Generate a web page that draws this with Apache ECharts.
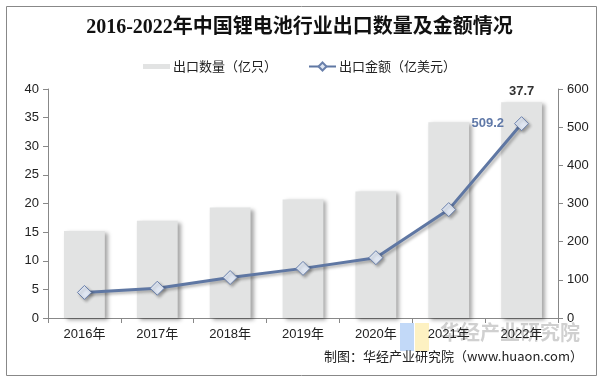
<!DOCTYPE html>
<html><head><meta charset="utf-8">
<script src="https://cdn.jsdelivr.net/npm/echarts@6/dist/echarts.min.js"></script>
<style>html,body{margin:0;padding:0;background:#fff}#c{width:599px;height:379px}</style>
</head><body><div id="c"></div>
<script>
const categories = ['2016年','2017年','2018年','2019年','2020年','2021年','2022年'];
const exportQty = [15.2, 17.0, 19.3, 20.7, 22.1, 34.2, 37.7];
const exportValue = [67, 78, 106, 130, 158, 284, 509.2];
const leftTicks = {min: 0, max: 40, interval: 5};
const rightTicks = {min: 0, max: 600, interval: 100};

const chart = echarts.init(document.getElementById('c'));
const axisFont = {fontFamily: 'Liberation Sans, Noto Sans CJK SC', fontSize: 13, color: '#222'};
chart.setOption({
  animation: false,
  backgroundColor: '#fff',
  title: {
    text: '2016-2022年中国锂电池行业出口数量及金额情况',
    left: 'center', top: 13,
    textStyle: {fontFamily: 'Liberation Serif, Noto Sans CJK SC', fontWeight: 'bold', fontSize: 20, color: '#111'}
  },
  legend: {
    top: 55, left: 'center', itemGap: 31, itemWidth: 27, itemHeight: 10,
    textStyle: {fontFamily: 'Noto Sans CJK SC', fontSize: 13, color: '#222', padding: [0, 0, 0, -2]},
    data: [
      {name: '出口数量（亿只）', icon: 'path://M0,0h27v5h-27z', itemStyle: {color: '#e2e3e3'}},
      {name: '出口金额（亿美元）'}
    ]
  },
  grid: {left: 48, right: 41, top: 89, bottom: 61},
  xAxis: {
    type: 'category', data: categories,
    axisLine: {lineStyle: {color: '#888'}},
    axisTick: {show: true, alignWithLabel: false, length: 5, lineStyle: {color: '#888'}},
    axisLabel: Object.assign({margin: 10}, axisFont)
  },
  yAxis: [
    Object.assign({type: 'value', position: 'left',
      axisLine: {show: true, lineStyle: {color: '#888'}},
      axisTick: {show: true, length: 5, lineStyle: {color: '#888'}},
      splitLine: {show: false},
      axisLabel: Object.assign({margin: 9}, axisFont)}, leftTicks),
    Object.assign({type: 'value', position: 'right',
      axisLine: {show: true, lineStyle: {color: '#888'}},
      axisTick: {show: true, length: 5, lineStyle: {color: '#888'}},
      splitLine: {show: false},
      axisLabel: Object.assign({margin: 9}, axisFont)}, rightTicks)
  ],
  series: [
    {
      name: '出口数量（亿只）', type: 'bar', yAxisIndex: 0, data: exportQty,
      barWidth: '56%',
      itemStyle: {color: '#e2e3e3', shadowColor: 'rgba(0,0,0,0.35)', shadowBlur: 4, shadowOffsetX: 3, shadowOffsetY: 2},
      label: {
        show: true, position: 'top', distance: 4,
        fontFamily: 'Liberation Sans', fontSize: 13, fontWeight: 'bold', color: '#333',
        formatter: p => p.dataIndex === exportQty.length - 1 ? p.value : ''
      }
    },
    {
      name: '出口金额（亿美元）', type: 'line', yAxisIndex: 1, data: exportValue,
      symbol: 'diamond', symbolSize: 14,
      lineStyle: {color: '#5f77a3', width: 3, shadowColor: 'rgba(0,0,0,0.3)', shadowBlur: 3, shadowOffsetX: 2, shadowOffsetY: 2},
      itemStyle: {color: '#dfe6f2', borderColor: '#6a80ab', borderWidth: 1, shadowColor: 'rgba(0,0,0,0.3)', shadowBlur: 3, shadowOffsetX: 2, shadowOffsetY: 2},
      label: {
        show: true, position: 'left', distance: 10,
        fontFamily: 'Liberation Sans', fontSize: 13, fontWeight: 'bold', color: '#6079a8',
        formatter: p => p.dataIndex === exportValue.length - 1 ? p.value : ''
      }
    }
  ],
  graphic: [
    {type: 'rect', left: 4, top: 4, shape: {width: 590, height: 369}, style: {fill: 'none', stroke: '#888', lineWidth: 1}, silent: true},
    {type: 'rect', left: 400, top: 323, shape: {width: 14, height: 28}, style: {fill: 'rgba(120,170,240,0.45)'}, silent: true},
    {type: 'rect', left: 415, top: 323, shape: {width: 14, height: 28}, style: {fill: 'rgba(250,225,120,0.45)'}, silent: true},
    {type: 'text', left: 440, top: 322, style: {text: '华经产业研究院', fontFamily: 'Noto Sans CJK SC', fontWeight: 'bold', fontSize: 20, fill: 'rgba(150,150,150,0.45)'}, silent: true},
    {type: 'text', right: 16, top: 350, style: {text: '制图：华经产业研究院（www.huaon.com）', fontFamily: 'Noto Sans CJK SC', fontSize: 13, fill: '#222'}}
  ]
});
</script></body></html>
